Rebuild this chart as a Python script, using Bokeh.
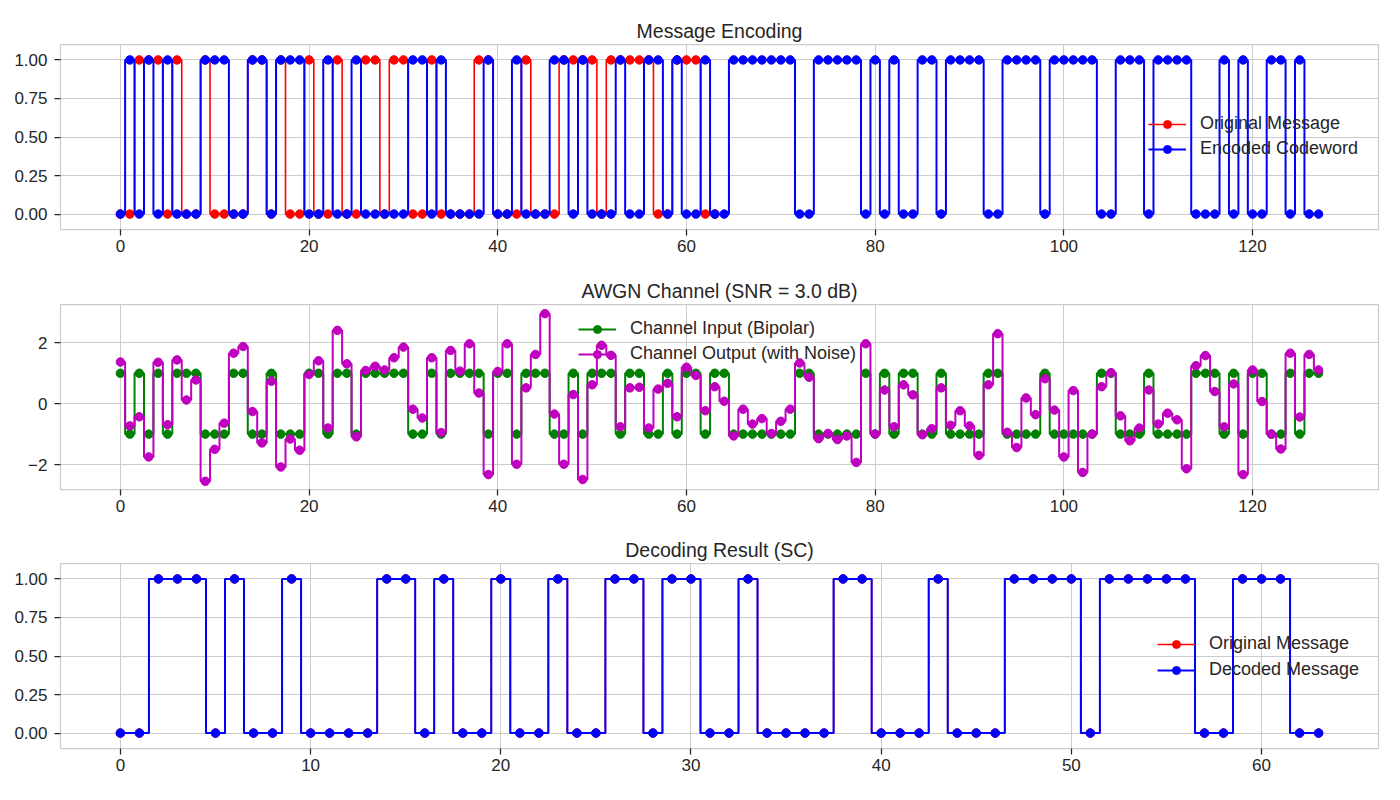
from bokeh.plotting import figure
from bokeh.layouts import column
from bokeh.models import Range1d, FixedTicker, Legend, LegendItem, NumeralTickFormatter
from bokeh.embed import file_html
from bokeh.resources import INLINE

# ---------------- data ----------------
original_message = [0, 0, 1, 1, 1, 0, 1, 0, 0, 1,
                    0, 0, 0, 0, 1, 1, 0, 1, 0, 0,
                    1, 0, 0, 1, 0, 0, 1, 1, 0, 1,
                    1, 0, 0, 1, 0, 0, 0, 0, 1, 1,
                    0, 0, 0, 1, 0, 0, 0, 1, 1, 1,
                    1, 0, 1, 1, 1, 1, 1, 0, 0, 1,
                    1, 1, 0, 0]

encoded_codeword = [0, 1, 0, 1, 0, 1, 0, 0, 0, 1,
                    1, 1, 0, 0, 1, 1, 0, 1, 1, 1,
                    0, 0, 1, 0, 0, 1, 0, 0, 0, 0,
                    0, 1, 1, 0, 1, 0, 0, 0, 0, 1,
                    0, 0, 1, 0, 0, 0, 1, 1, 0, 1,
                    0, 0, 0, 1, 0, 0, 1, 1, 0, 1,
                    0, 0, 1, 0, 0, 1, 1, 1, 1, 1,
                    1, 1, 0, 0, 1, 1, 1, 1, 1, 0,
                    1, 0, 1, 0, 0, 1, 1, 0, 1, 1,
                    1, 1, 0, 0, 1, 1, 1, 1, 0, 1,
                    1, 1, 1, 1, 0, 0, 1, 1, 1, 0,
                    1, 1, 1, 1, 0, 0, 0, 1, 0, 1,
                    0, 0, 1, 1, 0, 1, 0, 0]

channel_input = [1, -1, 1, -1, 1, -1, 1, 1, 1, -1,
                 -1, -1, 1, 1, -1, -1, 1, -1, -1, -1,
                 1, 1, -1, 1, 1, -1, 1, 1, 1, 1,
                 1, -1, -1, 1, -1, 1, 1, 1, 1, -1,
                 1, 1, -1, 1, 1, 1, -1, -1, 1, -1,
                 1, 1, 1, -1, 1, 1, -1, -1, 1, -1,
                 1, 1, -1, 1, 1, -1, -1, -1, -1, -1,
                 -1, -1, 1, 1, -1, -1, -1, -1, -1, 1,
                 -1, 1, -1, 1, 1, -1, -1, 1, -1, -1,
                 -1, -1, 1, 1, -1, -1, -1, -1, 1, -1,
                 -1, -1, -1, -1, 1, 1, -1, -1, -1, 1,
                 -1, -1, -1, -1, 1, 1, 1, -1, 1, -1,
                 1, 1, -1, -1, 1, -1, 1, 1]

channel_output = [1.37, -0.73, -0.43, -1.75, 1.36, -0.69, 1.44, 0.12, 0.78, -2.55,
                  -1.50, -0.64, 1.66, 1.88, -0.26, -1.29, 0.74, -2.08, -1.16, -1.53,
                  0.96, 1.41, -0.80, 2.41, 1.31, -1.09, 1.09, 1.23, 1.11, 1.51,
                  1.86, -0.18, -0.47, 1.51, -0.95, 1.75, 1.07, 1.97, 0.35, -2.33,
                  1.06, 1.97, -1.99, 0.52, 1.62, 2.96, -0.34, -1.99, 0.30, -2.49,
                  0.62, 1.92, 1.59, -0.76, 0.52, 0.54, -0.80, 0.48, 0.67, -0.43,
                  1.20, 0.93, -0.23, 0.56, 0.08, -1.06, -0.18, -0.67, -0.49, -0.98,
                  -0.58, -0.18, 1.34, 0.87, -1.15, -0.98, -1.18, -1.06, -1.93, 1.97,
                  -1.00, 0.45, -0.76, 0.62, 0.29, -1.02, -0.82, 0.52, -0.71, -0.23,
                  -0.73, -1.70, 0.62, 2.30, -0.94, -1.44, 0.19, -0.36, 0.82, -0.21,
                  -1.75, 0.43, -2.26, -1.00, 0.56, 1.02, -0.40, -1.22, -0.80, 0.45,
                  -0.67, -0.31, -0.53, -2.14, 1.25, 1.58, 0.40, -0.76, 0.65, -2.33,
                  1.11, 0.07, -1.00, -1.49, 1.66, -0.44, 1.62, 1.11]

decoded_message = [0, 0, 1, 1, 1, 0, 1, 0, 0, 1,
                   0, 0, 0, 0, 1, 1, 0, 1, 0, 0,
                   1, 0, 0, 1, 0, 0, 1, 1, 0, 1,
                   1, 0, 0, 1, 0, 0, 0, 0, 1, 1,
                   0, 0, 0, 1, 0, 0, 0, 1, 1, 1,
                   1, 0, 1, 1, 1, 1, 1, 0, 0, 1,
                   1, 1, 0, 0]

titles = ["Message Encoding", "AWGN Channel (SNR = 3.0 dB)", "Decoding Result (SC)"]
x_ticks_long = [0, 20, 40, 60, 80, 100, 120]
x_ticks_short = [0, 10, 20, 30, 40, 50, 60]
y_ticks_bits = [0, 0.25, 0.5, 0.75, 1.0]
y_ticks_channel = [-2, 0, 2]

# ---------------- style ----------------
FONT = "Liberation Sans"
TXT = "#262626"
GRID = "#cccccc"
RED = "#ff0000"
BLUE = "#0000ff"
GREEN = "#008000"
MAGENTA = "#bf00bf"
LW = 2
MS = 8.5


def make_fig(height, top, bottom, xr, yr, title, xt, yt):
    p = figure(width=1400, height=height, output_backend="svg", toolbar_location=None,
               x_range=Range1d(*xr), y_range=Range1d(*yr),
               min_border_left=60, min_border_right=22,
               min_border_top=top, min_border_bottom=bottom)
    p.title.text = title
    p.title.align = "center"
    p.title.text_font = FONT
    p.title.text_font_size = "19.5px"
    p.title.text_font_style = "normal"
    p.title.text_color = TXT
    p.title.standoff = 6
    p.outline_line_color = GRID
    p.outline_line_width = 1.25
    p.background_fill_color = "white"
    p.border_fill_color = "white"
    for ax in p.axis:
        ax.axis_line_color = None
        ax.major_tick_out = 6
        ax.major_tick_in = 0
        ax.minor_tick_line_color = None
        ax.major_tick_line_color = TXT
        ax.major_tick_line_width = 1.25
        ax.major_label_text_font = FONT
        ax.major_label_text_font_size = "17px"
        ax.major_label_text_color = TXT
    p.xaxis.major_label_standoff = 4
    p.yaxis.major_label_standoff = 7
    p.xaxis.ticker = FixedTicker(ticks=xt)
    p.yaxis.ticker = FixedTicker(ticks=yt)
    p.grid.grid_line_color = GRID
    p.grid.grid_line_width = 1
    return p


def series(p, xs, ys, color, lw=LW):
    r1 = p.step(xs, ys, mode="center", line_color=color, line_width=lw)
    r2 = p.scatter(xs, ys, size=MS, fill_color=color, line_color=color)
    return [r1, r2]


def add_legend(p, items, loc, spacing):
    lg = Legend(items=[LegendItem(label=lab, renderers=rs) for lab, rs in items],
                location=loc, orientation="vertical",
                glyph_width=38, glyph_height=20, label_height=20,
                label_standoff=14, spacing=spacing, padding=0, margin=0,
                background_fill_alpha=0, border_line_alpha=0,
                label_text_font=FONT, label_text_font_size="18px",
                label_text_color=TXT)
    p.add_layout(lg, "center")


xs_msg = list(range(len(original_message)))
xs_cw = list(range(len(encoded_codeword)))

# ---- panel 1 ----
p1 = make_fig(260, 44, 31, (-6.35, 133.35), (-0.1, 1.1), titles[0], x_ticks_long, y_ticks_bits)
p1.yaxis.formatter = NumeralTickFormatter(format="0.00")
r_orig = series(p1, xs_msg, original_message, RED, 1.6)
r_enc = series(p1, xs_cw, encoded_codeword, BLUE)
add_legend(p1, [("Original Message", r_orig), ("Encoded Codeword", r_enc)], (1088, 70), 4)

# ---- panel 2 ----
p2 = make_fig(260, 44, 31, (-6.35, 133.35), (-2.82, 3.26), titles[1], x_ticks_long, y_ticks_channel)
p2.yaxis.major_label_overrides = {-2: "\u22122", 0: "0", 2: "2"}
r_in = series(p2, xs_cw, channel_input, GREEN)
r_out = series(p2, xs_cw, channel_output, MAGENTA)
add_legend(p2, [("Channel Input (Bipolar)", r_in), ("Channel Output (with Noise)", r_out)], (518, 125), 4)

# ---- panel 3 ----
p3 = make_fig(280, 43, 52, (-3.15, 66.15), (-0.1, 1.1), titles[2], x_ticks_short, y_ticks_bits)
p3.yaxis.formatter = NumeralTickFormatter(format="0.00")
r_o3 = series(p3, xs_msg, original_message, RED, 1.6)
r_d3 = series(p3, xs_msg, decoded_message, BLUE)
add_legend(p3, [("Original Message", r_o3), ("Decoded Message", r_d3)], (1097, 68), 5)

layout = column(p1, p2, p3, spacing=0)
open("out.html", "w").write(file_html(layout, INLINE))
